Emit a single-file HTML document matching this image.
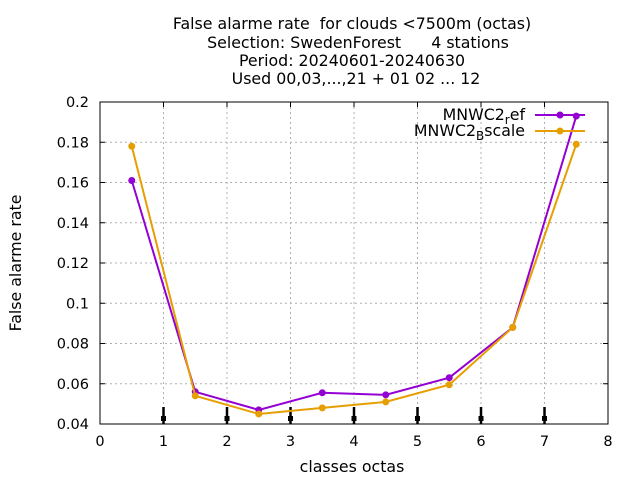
<!DOCTYPE html>
<html><head><meta charset="utf-8"><style>
body{margin:0;background:#fff}
svg{display:block;font-family:"DejaVu Sans","Liberation Sans",sans-serif}
text{white-space:pre}
</style></head><body>
<svg id="c" width="640" height="480">
<g font-size="15.8" text-anchor="middle">
<text x="352" y="29">False alarme rate  for clouds &lt;7500m (octas)</text>
<text x="358" y="48">Selection: SwedenForest      4 stations</text>
<text x="352" y="66">Period: 20240601-20240630</text>
<text x="356" y="84">Used 00,03,...,21 + 01 02 ... 12</text>
</g>
<text x="21" y="263" font-size="15.8" text-anchor="middle" transform="rotate(-90 21 263)">False alarme rate</text>
<text x="352" y="472" font-size="15.8" text-anchor="middle">classes octas</text>
<g id="grid"></g><g id="axes"></g><g id="marks"></g>
<g font-size="15.8">
<text x="525" y="120" text-anchor="end">MNWC2<tspan font-size="12" dy="4">r</tspan><tspan dy="-4">ef</tspan></text>
<line x1="535" y1="115" x2="585" y2="115" stroke="#9400d3" stroke-width="2"/>
<circle cx="560" cy="115" r="3.5" fill="#9400d3"/>
<text x="525" y="136" text-anchor="end">MNWC2<tspan font-size="12" dy="4">B</tspan><tspan dy="-4">scale</tspan></text>
<line x1="535" y1="131" x2="585" y2="131" stroke="#e69f00" stroke-width="2"/>
<circle cx="560" cy="131" r="3.5" fill="#e69f00"/>
</g>
</svg>
<script>
const categories=[0.5,1.5,2.5,3.5,4.5,5.5,6.5,7.5];
const refValues=[0.161,0.056,0.047,0.0555,0.0545,0.063,0.088,0.193];
const bscaleValues=[0.178,0.054,0.045,0.048,0.051,0.0595,0.088,0.179];
const xTicks=[0,1,2,3,4,5,6,7,8];
const yTicks=[0.04,0.06,0.08,0.1,0.12,0.14,0.16,0.18,0.2];
const markerX=[1,2,3,4,5,6,7];
const NS="http://www.w3.org/2000/svg";
const X=v=>100+v*63.5, Y=v=>424-(v-0.04)/0.16*322;
function mk(p,t,a){const e=document.createElementNS(NS,t);for(const k in a)e.setAttribute(k,a[k]);p.appendChild(e);return e;}
const g=document.getElementById('grid'),ax=document.getElementById('axes'),m=document.getElementById('marks');
xTicks.forEach(v=>{
 if(v>0&&v<8){const l=mk(g,'line',{x1:X(v),x2:X(v),y1:102,y2:424,stroke:'#b0b0b0','stroke-dasharray':'2,3'});
 
 }
 mk(ax,'line',{x1:X(v),x2:X(v),y1:424,y2:419,stroke:'#000'});mk(ax,'line',{x1:X(v),x2:X(v),y1:102,y2:107,stroke:'#000'});
 const t=mk(ax,'text',{x:X(v),y:446,'font-size':14.5,'text-anchor':'middle'});t.textContent=v;
 
 
});
yTicks.forEach(v=>{
 if(v>0.04&&v<0.2){const l=mk(g,'line',{x1:100,x2:608,y1:Y(v),y2:Y(v),stroke:'#b0b0b0','stroke-dasharray':'2,3'});
 
 }
 mk(ax,'line',{x1:100,x2:105,y1:Y(v),y2:Y(v),stroke:'#000'});mk(ax,'line',{x1:608,x2:603,y1:Y(v),y2:Y(v),stroke:'#000'});
 const t=mk(ax,'text',{x:89,y:Y(v)+5,'font-size':14.5,'text-anchor':'end'});t.textContent=+v.toFixed(2);
 
 
});
const fr=mk(ax,'rect',{x:100,y:102,width:508,height:322,fill:'none',stroke:'#000'});


markerX.forEach(v=>{
 const l=mk(m,'line',{x1:X(v),x2:X(v),y1:407,y2:424,stroke:'#000','stroke-width':2.5});
 
 
 mk(m,'rect',{x:X(v)-2.5,y:416,width:5,height:5,fill:'#000'});
});
function series(vals,col,name){
 const p=mk(m,'polyline',{points:categories.map((c,i)=>X(c)+','+Y(vals[i])).join(' '),fill:'none',stroke:col,'stroke-width':2});
 
 
 categories.forEach((c,i)=>{const d=mk(m,'circle',{cx:X(c),cy:Y(vals[i]),r:3.5,fill:col});
 
 });
}
series(refValues,'#9400d3','ref');
series(bscaleValues,'#e69f00','bscale');
</script>
</body></html>
